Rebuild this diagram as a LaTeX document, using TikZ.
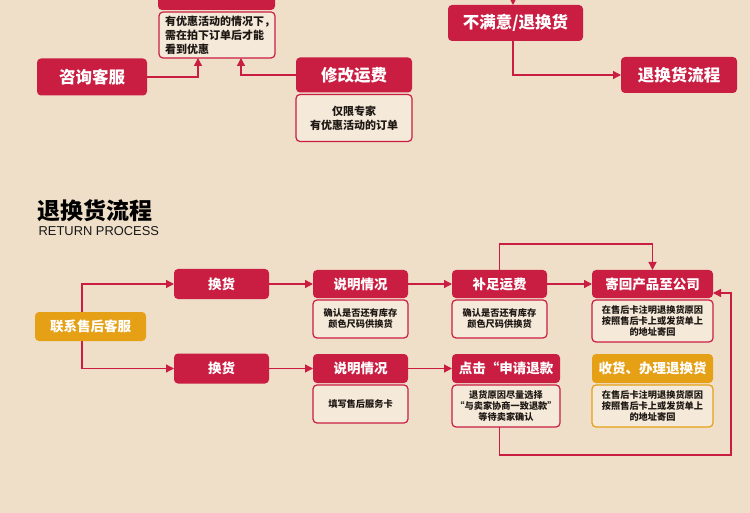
\documentclass[tikz,border=0pt]{standalone}
\usepackage{fontspec}
\setmainfont{Liberation Sans}
\newfontfamily\cjk{Noto Sans CJK SC}
\usetikzlibrary{positioning,arrows.meta}
\definecolor{bgbeige}{RGB}{239,223,201}
\definecolor{boxred}{RGB}{201,29,66}
\definecolor{boxorange}{RGB}{229,160,22}
\definecolor{notefill}{RGB}{245,233,217}
\definecolor{notetext}{RGB}{30,24,20}

\begin{document}
\begin{tikzpicture}[x=1pt,y=-1pt,line width=1.3pt,draw=boxred]
	\tikzstyle{head}=[rectangle,rounded corners=4pt,fill=boxred,text=white,inner sep=0pt,outer sep=0pt,font=\cjk\bfseries\fontsize{13.5}{16}\selectfont]
	\tikzstyle{big head}=[head,font=\cjk\bfseries\fontsize{16.5}{20}\selectfont]
	\tikzstyle{gold head}=[head,fill=boxorange]
	\tikzstyle{note}=[rectangle,rounded corners=4pt,fill=notefill,draw=boxred,line width=1.2pt,text=notetext,inner sep=0pt,outer sep=0pt,align=center,font=\cjk\bfseries\fontsize{9.2}{11}\selectfont]
	\tikzstyle{big note}=[note,font=\cjk\bfseries\fontsize{11}{14}\selectfont]
	\tikzstyle{arrow}=[draw=boxred,line width=1.3pt,-{Triangle[length=8pt,width=8pt]}]

	\useasboundingbox (0,0) rectangle (750,513);
	\clip (0,0) rectangle (750,513);
	\fill[bgbeige] (0,0) rectangle (750,513);

	% Draw the top part
	\node[head, minimum width=117pt, minimum height=40pt] (offer) at (216.5,-10) {};
	\node[big note, align=left, text width=104pt, inner xsep=6pt, minimum width=116pt, minimum height=46pt] (offer note) at (217,35) {有优惠活动的情况下，\\需在拍下订单后才能\\看到优惠};
	\node[big head, minimum width=110pt, minimum height=37pt] (ask) at (92,77) {咨询客服};
	\node[big head, minimum width=116pt, minimum height=35pt] (freight) at (354,75) {修改运费};
	\node[big note, below=2pt of freight, minimum width=116pt, minimum height=47pt] (freight note) {仅限专家\\有优惠活动的订单};
	\node[big head, minimum width=135pt, minimum height=36pt] (unhappy) at (515.5,23) {不满意/退换货};
	\node[big head, minimum width=116pt, minimum height=36pt] (process) at (679,75) {退换货流程};
	\coordinate (from above) at (513,0);

	% Draw the title
	\node[anchor=west, inner sep=0pt, text=black, font=\cjk\bfseries\fontsize{23}{26}\selectfont] (title) at (37,211) {退换货流程};
	\node[anchor=base west, inner sep=0pt, text=black!90, font=\fontsize{12.9}{14}\selectfont] (subtitle) at (38,236) {RETURN PROCESS};

	% Draw the return process nodes
	\node[gold head, minimum width=111pt, minimum height=29pt] (contact) at (90.5,326.5) {联系售后客服};
	\node[head, minimum width=95pt, minimum height=30pt] (swap-1) at (221.5,284) {换货};
	\node[head, minimum width=95pt, minimum height=28pt] (explain-1) at (360.5,284) {说明情况};
	\node[note, below=2pt of explain-1, minimum width=95pt, minimum height=38pt] (explain-1 note) {确认是否还有库存\\颜色尺码供换货};
	\node[head, minimum width=95pt, minimum height=28pt] (pay-1) at (499.5,284) {补足运费};
	\node[note, below=2pt of pay-1, minimum width=95pt, minimum height=38pt] (pay-1 note) {确认是否还有库存\\颜色尺码供换货};
	\node[head, minimum width=121pt, minimum height=28pt] (send-1) at (652.5,284) {寄回产品至公司};
	\node[note, below=2pt of send-1, minimum width=121pt, minimum height=42pt] (send-1 note) {在售后卡注明退换货原因\\按照售后卡上或发货单上\\的地址寄回};

	\node[head, minimum width=95pt, minimum height=30pt] (swap-2) at (221.5,368.5) {换货};
	\node[head, minimum width=95pt, minimum height=29pt] (explain-2) at (360.5,368.5) {说明情况};
	\node[note, below=2pt of explain-2, minimum width=95pt, minimum height=38pt] (explain-2 note) {填写售后服务卡};
	\node[head, minimum width=108pt, minimum height=29pt] (refund) at (506,368.5) {点击“申请退款};
	\node[note, below=2pt of refund, minimum width=108pt, minimum height=42pt] (refund note) {退货原因尽量选择\\“与卖家协商一致退款”\\等待卖家确认};
	\node[gold head, minimum width=121pt, minimum height=29pt] (receive) at (652.5,368.5) {收货、办理退换货};
	\node[note, draw=boxorange, below=2pt of receive, minimum width=121pt, minimum height=42pt] (receive note) {在售后卡注明退换货原因\\按照售后卡上或发货单上\\的地址寄回};
	\coordinate (loop corner) at (731,455);

	% Connect the top part
	\draw[arrow] (ask.east) -| ([xshift=-19pt]offer note.south);
	\draw[arrow] (freight.west) -| ([xshift=24pt]offer note.south);
	\draw[arrow] (from above) -- (from above |- unhappy.north);
	\draw[arrow] ([xshift=-2.5pt]unhappy.south) |- (process.west);

	% Connect the return process
	\draw[arrow] ([xshift=-8.5pt]contact.north) |- (swap-1.west);
	\draw[arrow] ([xshift=-8.5pt]contact.south) |- (swap-2.west);
	\foreach \source/\dest in {swap-1/explain-1,explain-1/pay-1,pay-1/send-1,swap-2/explain-2,explain-2/refund}
	\draw[arrow] (\source.east) -- (\dest.west);
	\draw[arrow] (pay-1.north) -- ++(0,-26) -| (send-1.north);
	\draw[arrow] (refund note.south -| pay-1) |- (loop corner) |- ([yshift=-9pt]send-1.east);

\end{tikzpicture}
\end{document}
